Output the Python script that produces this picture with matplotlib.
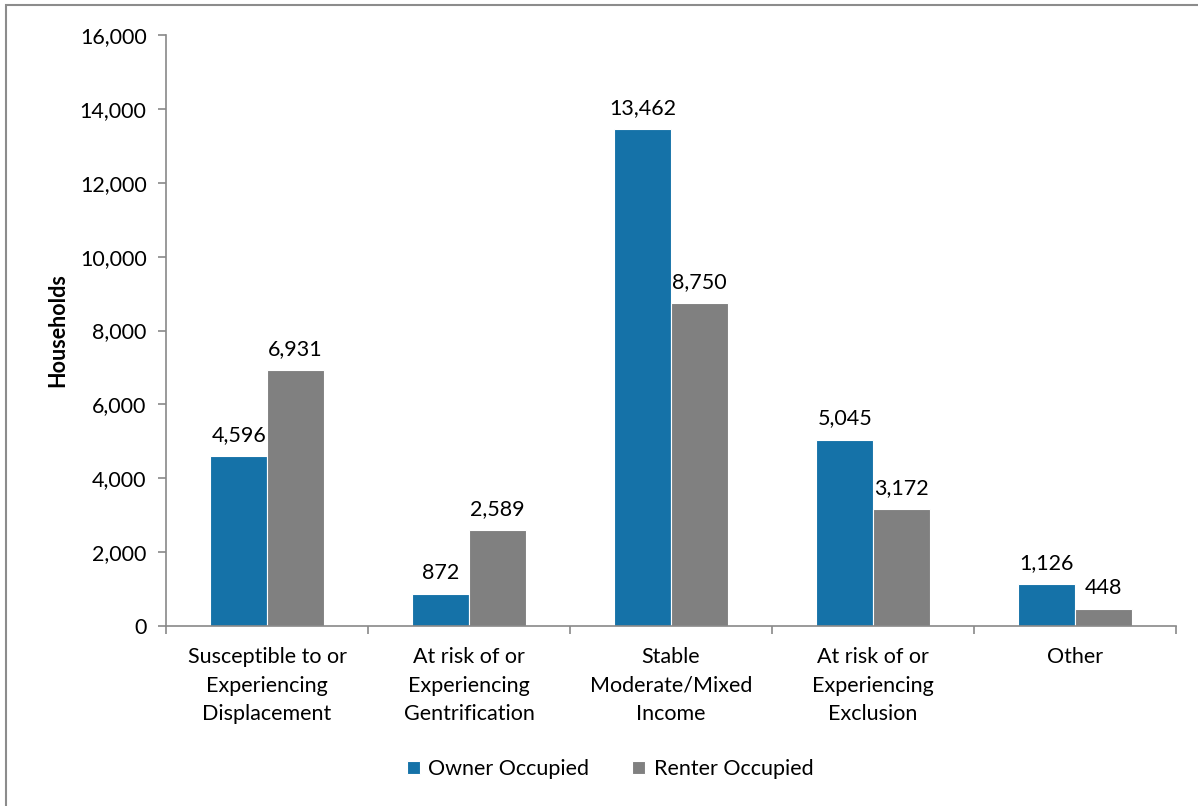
import matplotlib
matplotlib.use("Agg")
import matplotlib.pyplot as plt
from matplotlib.patches import Rectangle
import numpy as np

categories = ["Susceptible to or\nExperiencing\nDisplacement",
              "At risk of or\nExperiencing\nGentrification",
              "Stable\nModerate/Mixed\nIncome",
              "At risk of or\nExperiencing\nExclusion",
              "Other"]
owner = [4596, 872, 13462, 5045, 1126]
renter = [6931, 2589, 8750, 3172, 448]
series_names = ["Owner Occupied", "Renter Occupied"]
yticks = [0, 2000, 4000, 6000, 8000, 10000, 12000, 14000, 16000]

FS = 15.5
plt.rcParams['font.family'] = ['Lato', 'DejaVu Sans']
fig = plt.figure(figsize=(11.98, 8.06), dpi=100)
ax = fig.add_axes([166/1198, 1-626/806, (1176-166)/1198, (626-35)/806])

x = np.arange(len(categories))
w = 0.28
blue = "#1572A8"
gray = "#808080"
b1 = ax.bar(x - w/2, owner, w, color=blue, edgecolor="white", linewidth=0.8, label=series_names[0])
b2 = ax.bar(x + w/2, renter, w, color=gray, edgecolor="white", linewidth=0.8, label=series_names[1])
for bars, vals in ((b1, owner), (b2, renter)):
    for b, v in zip(bars, vals):
        ax.annotate(f"{v:,}", (b.get_x() + b.get_width()/2, v), xytext=(0, 8),
                    textcoords="offset points", ha="center", va="bottom", fontsize=FS)

ax.set_xlim(-0.5, len(categories) - 0.5)
ax.set_ylim(0, 16000)
ax.set_yticks(yticks)
ax.set_yticklabels([f"{t:,}" for t in yticks], fontsize=FS)
ax.set_xticks(np.arange(len(categories) + 1) - 0.5)
ax.set_xticklabels([])
ax.set_xticks(x, minor=True)
ax.set_xticklabels(categories, minor=True, fontsize=FS, linespacing=1.55)
ax.tick_params(axis="x", which="minor", length=0, pad=15)
ax.tick_params(axis="x", which="major", length=6, color="#898989", width=1.2)
ax.tick_params(axis="y", length=6, color="#898989", width=1.2, pad=8)
for s in ("top", "right"):
    ax.spines[s].set_visible(False)
for s in ("left", "bottom"):
    ax.spines[s].set_color("#898989")
    ax.spines[s].set_linewidth(1.2)
ax.set_ylabel("Households", fontsize=FS, fontweight="bold", labelpad=8)

fig.legend(handles=[b1, b2], labels=series_names, loc="center", bbox_to_anchor=(610/1198, 1-769/806),
           ncol=2, frameon=False, fontsize=FS, handlelength=0.6, handleheight=0.6,
           handletextpad=0.4, columnspacing=2.0)

fig.patches.append(Rectangle((6/1198, -0.01), 1.1, 1-5/806 + 0.01, transform=fig.transFigure,
                             fill=False, edgecolor="#8C8C8C", linewidth=1.5))
fig.savefig("out.png", dpi=100, facecolor="white")
